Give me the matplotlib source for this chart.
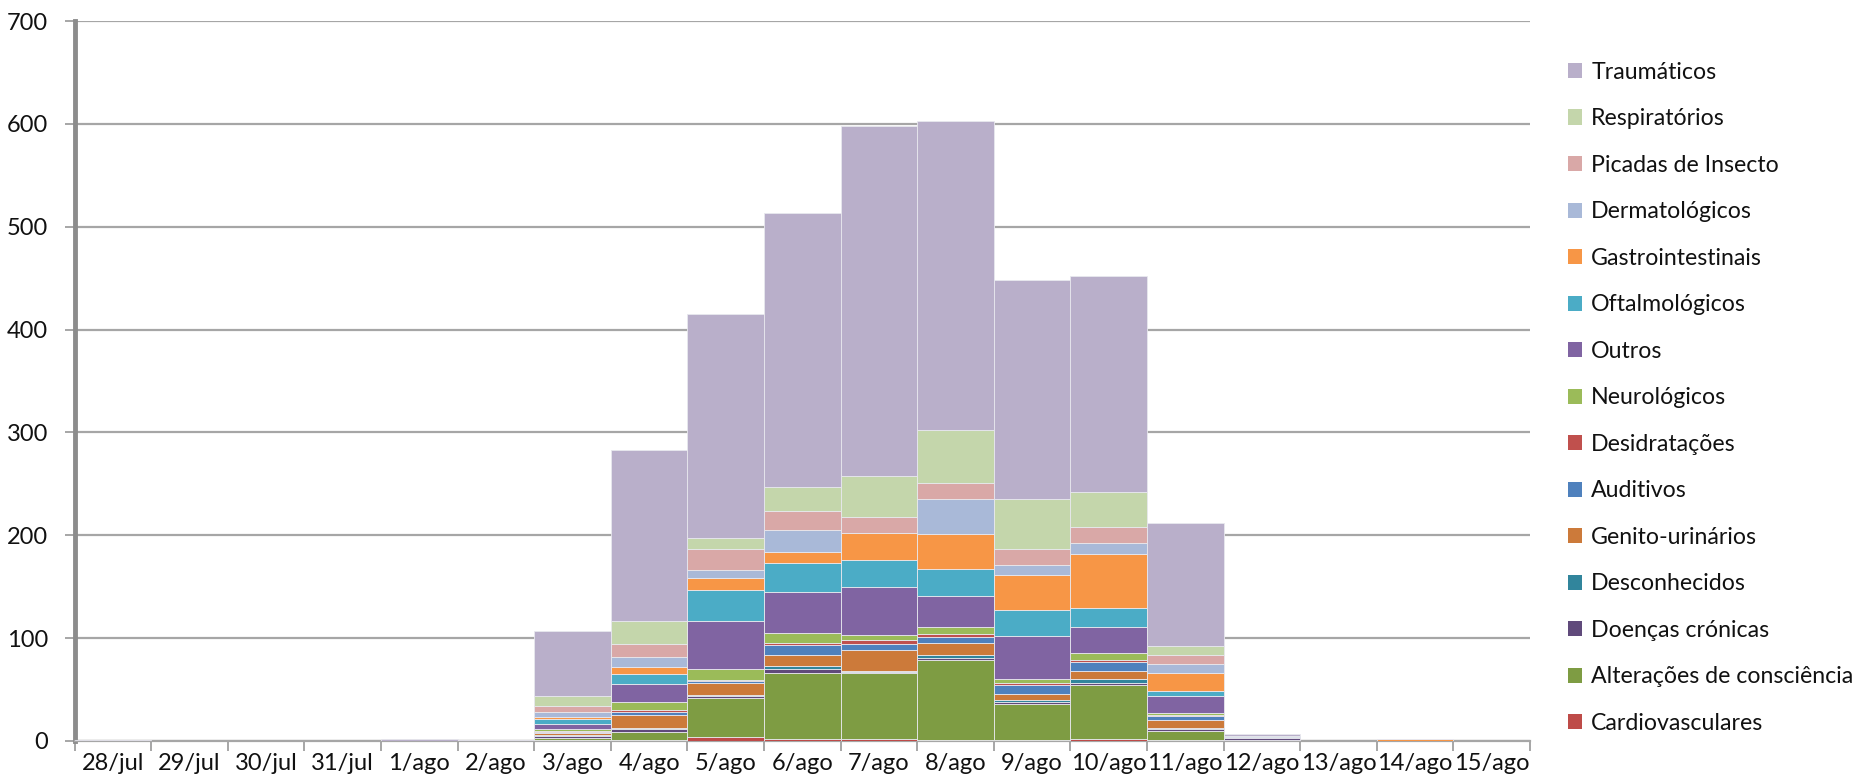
import numpy as np
import matplotlib
matplotlib.use('Agg')
import matplotlib.pyplot as plt
from matplotlib.patches import Patch

plt.rcParams['font.family'] = ['Lato', 'DejaVu Sans']

# dias
days = ['28/jul', '29/jul', '30/jul', '31/jul', '1/ago', '2/ago', '3/ago', '4/ago', '5/ago', '6/ago',
        '7/ago', '8/ago', '9/ago', '10/ago', '11/ago', '12/ago', '13/ago', '14/ago', '15/ago']

# series (de baixo para cima)
cardiovasculares = [0, 0, 0, 0, 0, 0, 1, 1, 4, 2, 2, 1, 1, 2, 1, 0, 0, 0, 0]
alteracoes_consciencia = [0, 0, 0, 0, 0, 0, 2, 8, 38, 64, 64, 78, 35, 52, 9, 1, 0, 0, 0]
doencas_cronicas = [0, 0, 0, 0, 0, 0, 2, 3, 2, 4, 1, 2, 2, 2, 2, 2, 0, 0, 0]
desconhecidos = [0, 0, 0, 0, 0, 0, 1, 1, 1, 3, 1, 3, 2, 4, 1, 0, 0, 0, 0]
genito_urinarios = [0, 0, 0, 0, 0, 0, 2, 12, 11, 11, 20, 11, 6, 8, 7, 0, 0, 0, 0]
auditivos = [0, 0, 0, 0, 0, 0, 1, 3, 2, 9, 6, 6, 8, 9, 4, 0, 0, 0, 0]
desidratacoes = [0, 0, 0, 0, 0, 0, 1, 2, 1, 2, 4, 3, 2, 2, 1, 0, 0, 0, 0]
neurologicos = [0, 0, 0, 0, 0, 0, 2, 8, 11, 10, 5, 6.5, 4, 6, 2, 0, 0, 0, 0]
outros = [0, 0, 0, 0, 0, 0, 4, 17, 47, 40, 46.5, 30.6, 42, 25.5, 17, 1, 0, 0, 0]
oftalmologicos = [0, 0, 0, 0, 0, 0, 5, 10, 29.3, 28, 26, 26.4, 25.4, 18.5, 5, 1, 0, 0, 0]
gastrointestinais = [0, 0, 0, 0, 0, 0, 2, 7, 11.7, 11, 26.5, 34.2, 34.2, 53.1, 17, 0, 0, 2, 0]
dermatologicos = [0, 0, 0, 0, 0, 0, 5, 10, 8, 21, 0, 33.2, 9.8, 10.5, 9, 0, 0, 0, 0]
picadas_insecto = [0, 0, 0, 0, 0, 0, 6, 12, 21, 19, 16, 16.3, 15.6, 15.3, 9, 0, 0, 0, 0]
respiratorios = [0, 0, 0, 0, 0, 0, 10, 23, 10, 23, 40, 51.2, 47.9, 34.1, 8, 0, 0, 0, 0]
traumaticos = [1, 0, 0, 0, 2, 1, 63, 166, 218, 266, 340, 300.6, 213.1, 210, 120, 2, 0, 0, 0]

series = [
    ('Cardiovasculares', cardiovasculares, '#BE4B48'),
    ('Alterações de consciência', alteracoes_consciencia, '#7E9C43'),
    ('Doenças crónicas', doencas_cronicas, '#604A7B'),
    ('Desconhecidos', desconhecidos, '#31859C'),
    ('Genito-urinários', genito_urinarios, '#CC7A3A'),
    ('Auditivos', auditivos, '#4F81BD'),
    ('Desidratações', desidratacoes, '#C0504D'),
    ('Neurológicos', neurologicos, '#9BBB59'),
    ('Outros', outros, '#8064A2'),
    ('Oftalmológicos', oftalmologicos, '#4BACC6'),
    ('Gastrointestinais', gastrointestinais, '#F79646'),
    ('Dermatológicos', dermatologicos, '#A9B9D8'),
    ('Picadas de Insecto', picadas_insecto, '#D9A8A7'),
    ('Respiratórios', respiratorios, '#C4D6AB'),
    ('Traumáticos', traumaticos, '#B9AFCA'),
]

fig = plt.figure(figsize=(18.68, 7.84), dpi=100)
ax = fig.add_axes([0.040, 0.055, 0.779, 0.918])

x = np.arange(len(days))
bottom = np.zeros(len(days))
for name, vals, col in series:
    vals = np.array(vals, dtype=float)
    ax.bar(x, vals, width=1.0, bottom=bottom, color=col, edgecolor='#e8e8ee',
           linewidth=0.6, zorder=3)
    bottom += vals

# eixos
ax.set_xlim(-0.5, len(days) - 0.5)
ax.set_ylim(0, 700)
ax.set_yticks(range(0, 701, 100))
ax.yaxis.grid(True, color='#a6a6a6', linewidth=1.6, zorder=0)
ax.set_axisbelow(True)
for s in ['top', 'right']:
    ax.spines[s].set_visible(False)
ax.spines['left'].set_color('#8c8c8c')
ax.spines['left'].set_linewidth(3.5)
ax.spines['bottom'].set_color('#a6a6a6')
ax.spines['bottom'].set_linewidth(1.6)

ax.set_xticks(x)
ax.set_xticklabels(days)
ax.set_xticks(np.arange(-0.5, len(days), 1.0), minor=True)
ax.tick_params(axis='x', which='major', length=0, pad=9, labelsize=17, labelcolor='#111111')
ax.tick_params(axis='x', which='minor', length=7, width=1.4, color='#a6a6a6')
ax.tick_params(axis='y', length=7, width=1.4, color='#a6a6a6', labelsize=17, labelcolor='#111111', pad=12)

handles = [Patch(facecolor=c, edgecolor='none', label=n) for n, v, c in series][::-1]
fig.legend(handles=handles, loc='upper left', bbox_to_anchor=(0.828, 0.948), frameon=False,
           fontsize=16.7, handlelength=0.62, handleheight=0.62, handletextpad=0.4,
           labelspacing=1.1, labelcolor='#111111')

plt.savefig('out.png', dpi=100)
